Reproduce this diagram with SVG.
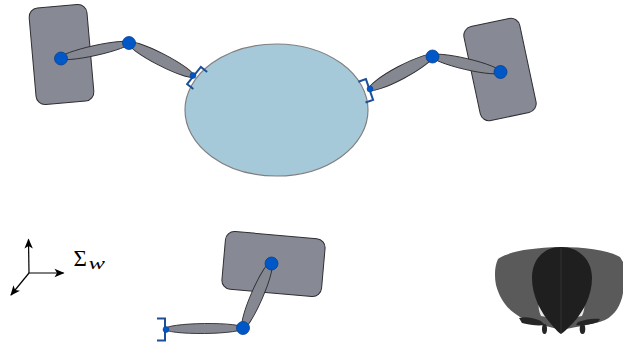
<svg xmlns="http://www.w3.org/2000/svg" width="623" height="345" viewBox="0 0 623 345">
  <style>
    .body { fill: #878a94; stroke: #2e2e33; stroke-width: 1; }
    .link { fill: #858891; stroke: #2e2e33; stroke-width: 0.9; }
    .joint { fill: #0057c8; stroke: #0a3f8c; stroke-width: 0.8; }
    .tip { fill: #0057c8; stroke: #0a3f8c; stroke-width: 0.5; }
    .bracket { fill: none; stroke: #1d4f98; stroke-width: 2; stroke-linejoin: miter; }
    .axis { stroke: #000; stroke-width: 1.2; fill: none; }
    .obj { fill: #a6c9da; stroke: #808080; stroke-width: 1.2; }
  </style>
  <defs>
    <marker id="arr" markerUnits="userSpaceOnUse" markerWidth="12" markerHeight="12" viewBox="-10 -6 12 12" refX="0" refY="0" orient="auto">
      <path d="M1,0 L-9,-4.2 L-6.5,0 L-9,4.2 Z" fill="#000"/>
    </marker>
    <path id="brk" d="M8,-11 H0 V11 H8"/>
  </defs>

  <!-- grasped object -->
  <g id="object">
    <ellipse class="obj" cx="276.5" cy="110" rx="91.5" ry="66"/>
  </g>

  <!-- finger 1 (top left) -->
  <g id="finger1">
    <rect class="body" x="-29" y="-48.5" width="58" height="97" rx="9" transform="translate(61.5,54.5) rotate(-5)"/>
  </g>
  <!-- finger 2 (top right) -->
  <g id="finger2">
    <rect class="body" x="-28.5" y="-48" width="57" height="96" rx="9" transform="translate(500,69.5) rotate(-12)"/>
  </g>
  <!-- finger 3 (bottom) -->
  <g id="finger3">
    <rect class="body" x="-50" y="-29" width="100" height="58" rx="9" transform="translate(273.5,264) rotate(5)"/>
  </g>

  <!-- links and contact brackets -->
  <g id="connectors">
    <ellipse class="link" cx="95" cy="50.5" rx="36" ry="5" transform="rotate(-12.4 95 50.5)"/>
    <ellipse class="link" cx="161" cy="59.5" rx="37" ry="6" transform="rotate(27.3 161 59.5)"/>
    <ellipse class="link" cx="466" cy="64" rx="36" ry="5.5" transform="rotate(13.2 466 64)"/>
    <ellipse class="link" cx="401" cy="72.5" rx="36.5" ry="6.5" transform="rotate(-28 401 72.5)"/>
    <ellipse class="link" cx="204.5" cy="328.5" rx="39.5" ry="5" transform="rotate(-0.7 204.5 328.5)"/>
    <ellipse class="link" cx="257" cy="295.5" rx="36.5" ry="6" transform="rotate(-66.7 257 295.5)"/>

    <use href="#brk" class="bracket" transform="translate(194,75.5) rotate(38.8)"/>
    <use href="#brk" class="bracket" transform="translate(369.5,89.5) rotate(161)"/>
    <use href="#brk" class="bracket" transform="translate(165,329.5) rotate(180)"/>
  </g>

  <!-- joints -->
  <g id="joints">
    <circle class="joint" cx="61" cy="58.5" r="6.5"/>
    <circle class="joint" cx="129" cy="43" r="6.5"/>
    <circle class="tip" cx="193" cy="75.5" r="3"/>
    <circle class="joint" cx="500.5" cy="72" r="6.5"/>
    <circle class="joint" cx="432.5" cy="56.5" r="6.5"/>
    <circle class="tip" cx="370" cy="89" r="3"/>
    <circle class="joint" cx="271.5" cy="263.5" r="6.5"/>
    <circle class="joint" cx="243" cy="328" r="6.5"/>
    <circle class="tip" cx="166" cy="329.5" r="3"/>
  </g>

  <!-- world frame -->
  <g id="frame">
    <line class="axis" x1="29" y1="273" x2="28.5" y2="239.5" marker-end="url(#arr)"/>
    <line class="axis" x1="29" y1="273" x2="63.5" y2="273" marker-end="url(#arr)"/>
    <line class="axis" x1="29" y1="273" x2="11" y2="295" marker-end="url(#arr)"/>
    <text x="73.5" y="266" font-family="'Liberation Serif', 'DejaVu Serif', serif" font-size="23">Σ<tspan x="88.5" y="269" font-size="17" font-style="italic" textLength="16.5" lengthAdjust="spacingAndGlyphs">w</tspan></text>
  </g>

  <!-- insect silhouette -->
  <g id="insect">
    <path fill="#5a5a5a" d="M498,259 C510,251 530,248 560,247 C585,247 608,250 620,257 L623,262 L623,293 C621,305 615,315 605,320 C595,324 580,326 562,330 C545,326 530,322 520,317 C508,310 500,300 496,285 C494,275 495,265 498,259 Z"/>
    <path fill="#e6e6e6" d="M539,303 C541,309 544,314 547,317 L541,316 C539,312 538,307 539,303 Z"/>
    <path fill="#e6e6e6" d="M584,303 C582,309 579,314 576,317 L582,316 C584,312 585,307 584,303 Z"/>
    <path fill="#1f1f1f" d="M561,247 C544,247 532,259 532,278 C532,296 541,313 551,324 C555,329 559,333 561,334 C564,332 568,328 573,323 C583,312 592,296 592,278 C592,259 578,247 561,247 Z"/>
    <line x1="561" y1="248" x2="561" y2="333" stroke="#3a3a3a" stroke-width="0.7"/>
    <g fill="#262626">
      <path d="M519,318 C525,316 534,318 541,321 L545,325 C538,326 530,325 522,323 Z"/>
      <ellipse cx="544.5" cy="329" rx="2.5" ry="5"/>
      <path d="M600,319 C594,318 586,319 578,322 L576,325 C584,326 592,324 598,322 Z"/>
      <ellipse cx="582.5" cy="329" rx="2.8" ry="5"/>
    </g>
  </g>
</svg>
